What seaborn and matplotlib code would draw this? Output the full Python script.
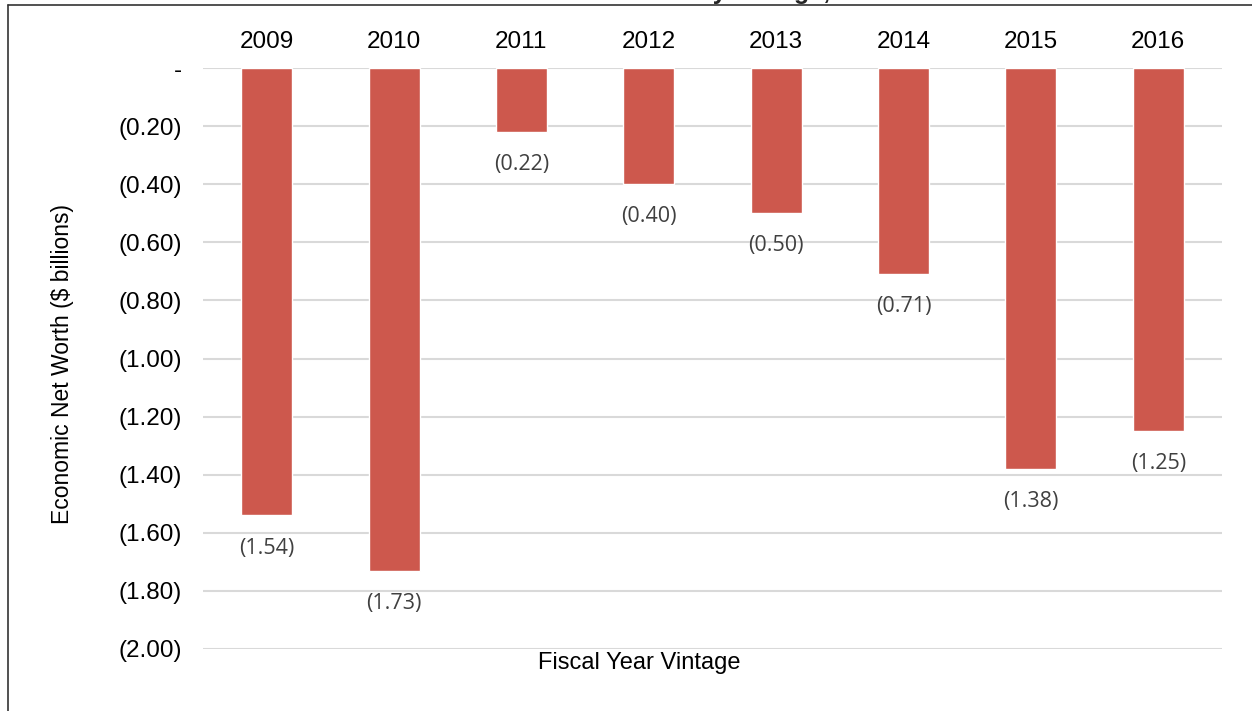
import numpy as np
import pandas as pd
import matplotlib
matplotlib.use("Agg")
import matplotlib.pyplot as plt
import seaborn as sns
from matplotlib.lines import Line2D

# data ($ billions)
years = ["2009", "2010", "2011", "2012", "2013", "2014", "2015", "2016"]
net_worth = [-1.54, -1.73, -0.22, -0.40, -0.50, -0.71, -1.38, -1.25]
y_ticks = [0.0, -0.2, -0.4, -0.6, -0.8, -1.0, -1.2, -1.4, -1.6, -1.8, -2.0]

df = pd.DataFrame({"year": years, "value": net_worth})

sns.set_theme(style="white")
plt.rcParams["font.family"] = ["Liberation Sans", "DejaVu Sans"]

W, H = 1252, 711
fig = plt.figure(figsize=(W / 100, H / 100), dpi=100)
ax = fig.add_axes([203 / W, 1 - 649 / H, (1222 - 203) / W, (649 - 68) / H])

bar_color = "#CD584D"
sns.barplot(data=df, x="year", y="value", color=bar_color, width=0.4,
            saturation=1, ax=ax, zorder=3)

ax.set_ylim(-2.0, 0)
ax.set_xlim(-0.5, len(years) - 0.5)
ax.set_yticks(y_ticks)
ax.set_yticklabels(["-" if v == 0 else "({:.2f})".format(-v) for v in y_ticks])
ax.grid(axis="y", color="#D9D9D9", linewidth=1.5, zorder=0)
ax.grid(axis="x", visible=False)
for s in ax.spines.values():
    s.set_visible(False)

ax.xaxis.tick_top()
ax.xaxis.set_label_position("bottom")
ax.tick_params(axis="x", length=0, pad=11, labelsize=17.5, labelcolor="black")
ax.tick_params(axis="y", length=0, pad=15, labelsize=17.5, labelcolor="black")
ax.set_xlabel("Fiscal Year Vintage", fontsize=17, color="black")
ax.xaxis.set_label_coords(436 / 1019, -0.006)
ax.set_ylabel("Economic Net Worth ($ billions)", fontsize=16.5, color="black")
ax.yaxis.set_label_coords(-129 / 1019, 0.49)

# data labels under each bar
for i, v in enumerate(net_worth):
    ax.annotate("({:.2f})".format(-v), (i, v), xytext=(0, -16),
                textcoords="offset points", ha="center", va="top",
                fontsize=15.5, color="#404040", family=["Open Sans", "DejaVu Sans"])

# title, cut off at the top edge of the screenshot
fig.text(704 / W, 1 + 1 / H, "Economic Net Worth by Vintage, 2009\u20132016",
         ha="center", va="baseline", fontsize=18, fontweight="bold")

# frame lines of the screenshot
fig.add_artist(Line2D([8 / W, 1], [1 - 5 / H, 1 - 5 / H], transform=fig.transFigure,
                      color="#333333", linewidth=1.2))
fig.add_artist(Line2D([8 / W, 8 / W], [0, 1 - 5 / H], transform=fig.transFigure,
                      color="#333333", linewidth=1.2))

fig.savefig("out.png", dpi=100)
